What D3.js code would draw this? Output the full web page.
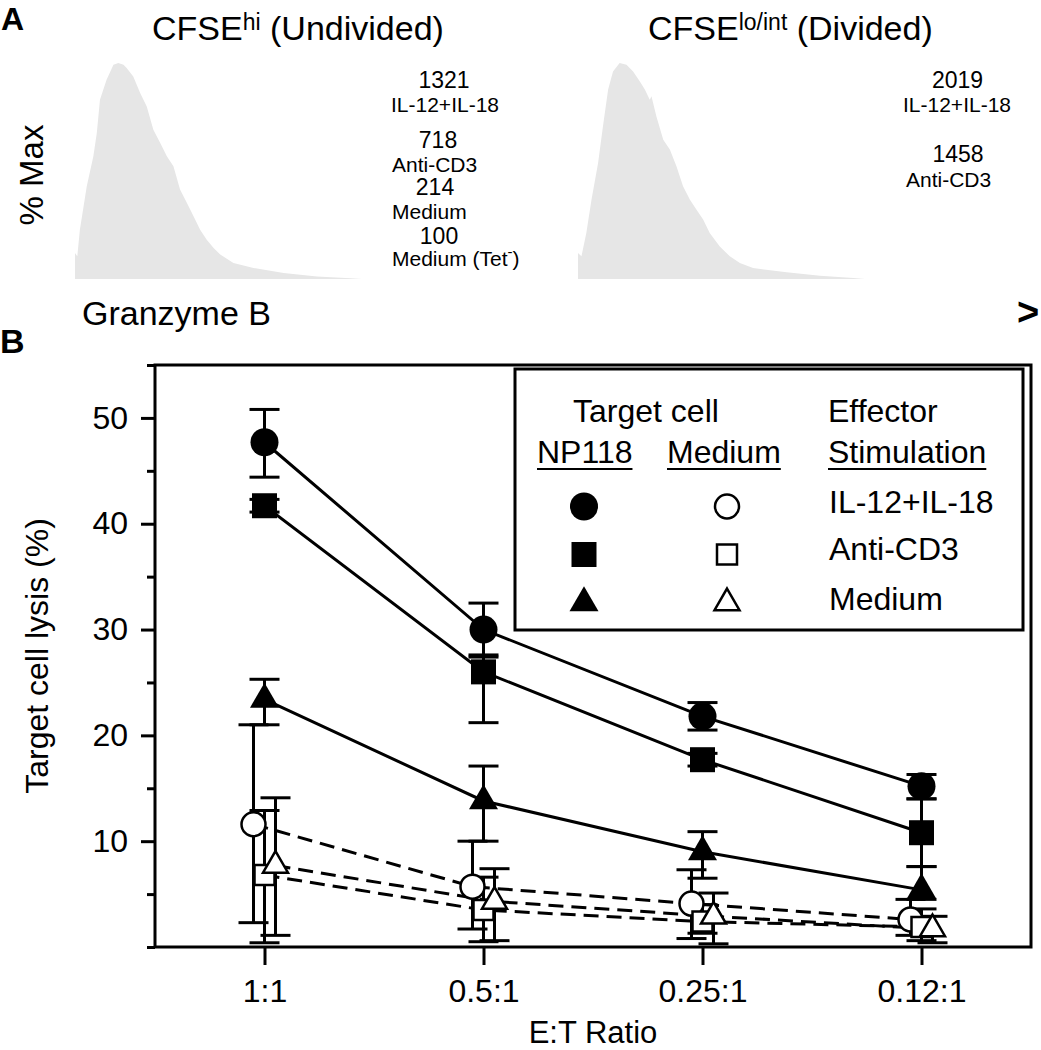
<!DOCTYPE html>
<html><head><meta charset="utf-8">
<script src="https://cdn.jsdelivr.net/npm/d3@7"></script>
<style>body{margin:0;background:#fff}</style>
</head><body>
<svg id="c" width="1041" height="1050"></svg>
<script>
// ---------- DATA ----------
const categories = ["1:1", "0.5:1", "0.25:1", "0.12:1"];

// Panel B: target cell lysis (%) — NP118 targets (filled)
const np118_IL12_mean = [47.7, 30.0, 21.8, 15.2];
const np118_IL12_lo   = [44.4, 27.4, 20.5, 14.0];
const np118_IL12_hi   = [50.8, 32.5, 23.1, 16.3];
const np118_CD3_mean  = [41.7, 26.0, 17.7, 10.8];
const np118_CD3_lo    = [41.1, 21.2, 17.1, 7.6];
const np118_CD3_hi    = [42.3, 27.6, 18.3, 14.0];
const np118_Med_mean  = [23.4, 13.8, 9.0, 5.4];
const np118_Med_lo    = [21.0, 10.0, 6.5, 4.5];
const np118_Med_hi    = [25.3, 17.1, 10.9, 7.6];
// Medium targets (open)
const med_IL12_mean = [11.6, 5.7, 4.1, 2.6];
const med_IL12_lo   = [2.3, 1.7, 0.8, 1.1];
const med_IL12_hi   = [21.0, 10.0, 7.3, 4.5];
const med_CD3_mean  = [6.8, 3.5, 2.4, 1.9];
const med_CD3_lo    = [0.4, 0.5, 1.3, 0.6];
const med_CD3_hi    = [12.9, 6.6, 4.0, 3.6];
const med_Med_mean  = [7.7, 4.3, 2.9, 1.7];
const med_Med_lo    = [1.1, 0.6, 0.3, 0.4];
const med_Med_hi    = [14.1, 7.4, 5.1, 2.9];

const yTicksMajor = [10, 20, 30, 40, 50];
const yTicksMinor = [0, 5, 15, 25, 35, 45, 55];

// Panel A histograms: Granzyme B channel vs % Max
const histLeftX  = [0,8,17,41,64,76,87,110,134,151,169,180,203,227,250,273,297,320,343,366,390,413,436,459,483,506,552,622,727,843,959,1000];
const histLeftY  = [12,10.5,22.8,42.9,56.8,67.6,83.0,92.3,99.2,100,99.2,97.7,93.8,86.1,79.9,69.1,63.0,56.8,52.2,41.4,35.2,29.0,22.8,18.2,14.4,11.3,7.4,5.1,2.8,1.2,0.3,0];
const histRightX = [0,12,29,47,70,87,105,122,145,169,192,215,233,250,256,273,297,320,343,366,390,413,436,459,494,529,564,610,727,843,959,1000];
const histRightY = [12.0,10.5,21.3,36.7,53.7,70.7,87.7,96.1,100,99.2,96.1,91.5,87.7,83.0,84.6,75.3,64.5,59.9,52.2,42.9,36.7,32.1,27.5,21.3,15.1,10.5,7.4,5.1,3.1,1.5,0.5,0];

const leftMFI   = ["1321", "718", "214", "100"];
const leftStim  = ["IL-12+IL-18", "Anti-CD3", "Medium", "Medium (Tet"];
const rightMFI  = ["2019", "1458"];
const rightStim = ["IL-12+IL-18", "Anti-CD3"];

const legendStim = ["IL-12+IL-18", "Anti-CD3", "Medium"];

// ---------- DRAW ----------
const FONT = "'Liberation Sans', Arial, Helvetica, sans-serif";
const svg = d3.select("#c").style("font-family", FONT);

// Panel A
svg.append("text").attr("x", 1).attr("y", 30).attr("font-size", 32).attr("font-weight", "bold").text("A");

function title(xPos, main, sup, rest) {
  const t = svg.append("text").attr("x", xPos).attr("y", 40).attr("font-size", 34);
  t.append("tspan").text(main);
  t.append("tspan").attr("font-size", 23).attr("dy", -10).text(sup);
  t.append("tspan").attr("dy", 10).text(rest);
}
title(152, "CFSE", "hi", " (Undivided)");
title(648, "CFSE", "lo/int", " (Divided)");

const hy = d3.scaleLinear().domain([0, 100]).range([279, 63]);
function hist(xs, ys, x0, x1) {
  const hx = d3.scaleLinear().domain([0, 1000]).range([x0, x1]);
  const data = xs.map((v, i) => [v, ys[i]]);
  const area = d3.area().x(d => hx(d[0])).y0(hy(0)).y1(d => hy(d[1]));
  svg.append("path").datum(data).attr("d", area).attr("fill", "#e6e6e6");
}
hist(histLeftX, histLeftY, 75, 362);
hist(histRightX, histRightY, 578, 865);

svg.append("text").attr("transform", "translate(43,175) rotate(-90)")
  .attr("text-anchor", "middle").attr("font-size", 33).text("% Max");
svg.append("text").attr("x", 82).attr("y", 325).attr("font-size", 34).text("Granzyme B");
svg.append("text").attr("x", 1017).attr("y", 325).attr("font-size", 38).attr("font-weight", "bold").text(">");

// MFI annotations
const leftNumPos = [[444, 88], [438, 148], [435, 195], [439, 244]];
const leftLabPos = [[391, 111.5], [392, 171.5], [392, 218.5], [392, 266]];
leftMFI.forEach((v, i) => {
  svg.append("text").attr("x", leftNumPos[i][0]).attr("y", leftNumPos[i][1])
    .attr("text-anchor", "middle").attr("font-size", 23).text(v);
  const t = svg.append("text").attr("x", leftLabPos[i][0]).attr("y", leftLabPos[i][1])
    .attr("font-size", 21).text(leftStim[i]);
  if (i === 3) {
    t.append("tspan").attr("dy", -9).attr("font-size", 15).text("-");
    t.append("tspan").attr("dy", 9).text(")");
  }
});
const rightNumPos = [[957.5, 88], [958, 161.5]];
const rightLabPos = [[903, 111.5], [906, 186.5]];
rightMFI.forEach((v, i) => {
  svg.append("text").attr("x", rightNumPos[i][0]).attr("y", rightNumPos[i][1])
    .attr("text-anchor", "middle").attr("font-size", 23).text(v);
  svg.append("text").attr("x", rightLabPos[i][0]).attr("y", rightLabPos[i][1])
    .attr("font-size", 21).text(rightStim[i]);
});

// Panel B
svg.append("text").attr("x", 0).attr("y", 353).attr("font-size", 34).attr("font-weight", "bold").text("B");

const x = d3.scalePoint().domain(categories).range([155, 1031]).padding(0.5);
const y = d3.scaleLinear().domain([0, 55]).range([947, 365]);

// frame
svg.append("rect").attr("x", x.range()[0]).attr("y", y(55))
  .attr("width", x.range()[1] - x.range()[0]).attr("height", y(0) - y(55))
  .attr("fill", "none").attr("stroke", "#000").attr("stroke-width", 3);

const gMaj = svg.append("g").attr("transform", `translate(${x.range()[0]},0)`)
  .call(d3.axisLeft(y).tickValues(yTicksMajor).tickSize(14).tickPadding(13));
const gMin = svg.append("g").attr("transform", `translate(${x.range()[0]},0)`)
  .call(d3.axisLeft(y).tickValues(yTicksMinor).tickSize(8).tickFormat(""));
const gX = svg.append("g").attr("transform", `translate(0,${y(0)})`)
  .call(d3.axisBottom(x).tickSize(18).tickPadding(14));
[gMaj, gMin, gX].forEach(g => {
  g.select(".domain").remove();
  g.selectAll("line").attr("stroke", "#000").attr("stroke-width", 3);
  g.selectAll("text").attr("font-size", 32).attr("font-family", FONT).attr("fill", "#000");
});

svg.append("text").attr("x", (x.range()[0] + x.range()[1]) / 2).attr("y", 1043)
  .attr("text-anchor", "middle").attr("font-size", 31).text("E:T Ratio");
svg.append("text").attr("transform", `translate(48,${(y(0) + y(55)) / 2}) rotate(-90)`)
  .attr("text-anchor", "middle").attr("font-size", 32).text("Target cell lysis (%)");

const series = [
  {mean: np118_IL12_mean, lo: np118_IL12_lo, hi: np118_IL12_hi, sym: d3.symbolCircle, filled: true, dx: 0},
  {mean: np118_CD3_mean, lo: np118_CD3_lo, hi: np118_CD3_hi, sym: d3.symbolSquare, filled: true, dx: 0},
  {mean: np118_Med_mean, lo: np118_Med_lo, hi: np118_Med_hi, sym: d3.symbolTriangle, filled: true, dx: 0},
  {mean: med_IL12_mean, lo: med_IL12_lo, hi: med_IL12_hi, sym: d3.symbolCircle, filled: false, dx: -11},
  {mean: med_CD3_mean, lo: med_CD3_lo, hi: med_CD3_hi, sym: d3.symbolSquare, filled: false, dx: 0},
  {mean: med_Med_mean, lo: med_Med_lo, hi: med_Med_hi, sym: d3.symbolTriangle, filled: false, dx: 11}
];
function symSize(sym, filled) {
  if (sym === d3.symbolCircle) return filled ? Math.PI * 14 * 14 : Math.PI * 12 * 12;
  if (sym === d3.symbolSquare) return filled ? 25 * 25 : 20 * 20;
  return filled ? Math.sqrt(3) / 4 * 29 * 29 : Math.sqrt(3) / 4 * 25 * 25;
}

const gErr = svg.append("g").attr("stroke", "#000").attr("stroke-width", 3);
series.forEach(s => {
  categories.forEach((c, i) => {
    const cx = x(c) + s.dx;
    gErr.append("line").attr("x1", cx).attr("x2", cx).attr("y1", y(s.lo[i])).attr("y2", y(s.hi[i]));
    [s.lo[i], s.hi[i]].forEach(v => {
      gErr.append("line").attr("x1", cx - 15).attr("x2", cx + 15).attr("y1", y(v)).attr("y2", y(v));
    });
  });
});

const line = d3.line().x(d => d[0]).y(d => d[1]);
series.forEach(s => {
  const pts = categories.map((c, i) => [x(c) + s.dx, y(s.mean[i])]);
  svg.append("path").datum(pts).attr("d", line).attr("fill", "none")
    .attr("stroke", "#000").attr("stroke-width", 3)
    .attr("stroke-dasharray", s.filled ? null : "15,8");
});

function drawSym(g, sym, filled, cx, cy) {
  g.append("path").attr("d", d3.symbol().type(sym).size(symSize(sym, filled))())
    .attr("transform", `translate(${cx},${cy})`)
    .attr("fill", filled ? "#000" : "#fff")
    .attr("stroke", filled ? "none" : "#000").attr("stroke-width", 2.5);
}
const gMark = svg.append("g");
series.filter(s => !s.filled).concat(series.filter(s => s.filled)).forEach(s => {
  categories.forEach((c, i) => drawSym(gMark, s.sym, s.filled, x(c) + s.dx, y(s.mean[i])));
});

// Legend
const lg = svg.append("g");
lg.append("rect").attr("x", 515).attr("y", 369).attr("width", 508).attr("height", 261)
  .attr("fill", "#fff").attr("stroke", "#000").attr("stroke-width", 3);
lg.append("text").attr("x", 573).attr("y", 422).attr("font-size", 32).text("Target cell");
lg.append("text").attr("x", 828).attr("y", 422).attr("font-size", 32).text("Effector");
[["NP118", 537], ["Medium", 667], ["Stimulation", 828]].forEach(([t, xx]) => {
  const el = lg.append("text").attr("x", xx).attr("y", 463).attr("font-size", 32).text(t);
  const w = el.node().getComputedTextLength();
  lg.append("line").attr("x1", xx).attr("x2", xx + w).attr("y1", 469).attr("y2", 469)
    .attr("stroke", "#000").attr("stroke-width", 2);
});
const legRowText = [513, 560, 610];
const legRowSym = [506.5, 554.5, 603];
const legSyms = [d3.symbolCircle, d3.symbolSquare, d3.symbolTriangle];
legendStim.forEach((t, i) => {
  lg.append("text").attr("x", 829).attr("y", legRowText[i]).attr("font-size", 32).text(t);
  drawSym(lg, legSyms[i], true, 584, legRowSym[i]);
  drawSym(lg, legSyms[i], false, 727, legRowSym[i]);
});
</script>
</body></html>
